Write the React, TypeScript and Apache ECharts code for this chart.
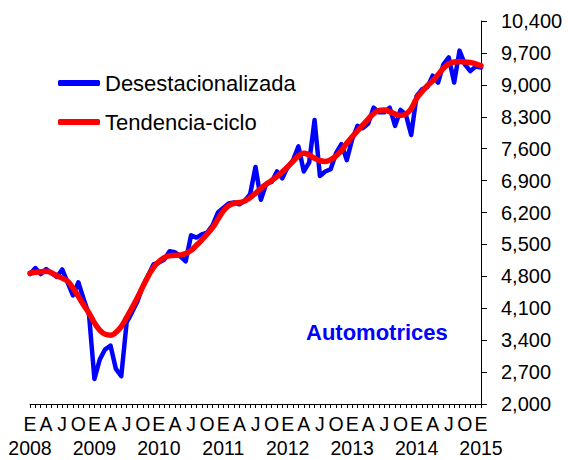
import React, { useEffect, useRef } from "react";
import * as echarts from "echarts";

const years = [2008, 2009, 2010, 2011, 2012, 2013, 2014, 2015];
const monthLetters: Record<number, string> = { 0: "E", 3: "A", 6: "J", 9: "O" };

// Monthly categories, Jan 2008 .. Jan 2015
const categories: string[] = [];
years.forEach((y) => {
  for (let m = 1; m <= 12; m++) {
    if (y === 2015 && m > 1) break;
    categories.push(`${y}-${String(m).padStart(2, "0")}`);
  }
});

const desestacionalizada = [
  // 2008
  4850, 4980, 4850, 4960, 4870, 4790, 4950, 4670, 4380, 4670, 4300, 3950,
  // 2009
  2550, 2980, 3200, 3280, 2770, 2610, 3790, 4010, 4250, 4580, 4820, 5060,
  // 2010
  5100, 5170, 5350, 5330, 5240, 5130, 5700, 5650, 5720, 5760, 5920, 6200,
  // 2011
  6300, 6400, 6420, 6380, 6460, 6600, 7200, 6480, 6830, 6870, 7100, 6950,
  // 2012
  7200, 7350, 7650, 7100, 7300, 8230, 7000, 7100, 7150, 7500, 7700, 7350,
  // 2013
  7800, 8100, 8050, 8150, 8500, 8400, 8400, 8500, 8100, 8450, 8350, 7900,
  // 2014
  8750, 8900, 8950, 9200, 9050, 9450, 9600, 9050, 9750, 9450, 9300, 9400,
  // 2015
  9380,
];

const tendenciaCiclo = [
  // 2008
  4870, 4890, 4900, 4910, 4880, 4810, 4760, 4690, 4540, 4360, 4170, 3990,
  // 2009
  3780, 3620, 3530, 3510, 3570, 3700, 3900, 4110, 4330, 4570, 4800, 4990,
  // 2010
  5120, 5210, 5250, 5260, 5270, 5300, 5370, 5480, 5600, 5730, 5870, 6050,
  // 2011
  6230, 6350, 6400, 6420, 6450, 6530, 6620, 6730, 6820, 6900, 6990, 7090,
  // 2012
  7200, 7320, 7440, 7500, 7460, 7390, 7340, 7320, 7360, 7440, 7560, 7720,
  // 2013
  7860, 7990, 8120, 8250, 8370, 8440, 8450, 8410, 8360, 8330, 8360, 8480,
  // 2014
  8700, 8850, 8980, 9090, 9220, 9360, 9460, 9500, 9510, 9500, 9490, 9460,
  // 2015
  9420,
];

const yTicks = [2000, 2700, 3400, 4100, 4800, 5500, 6200, 6900, 7600, 8300, 9000, 9700, 10400];

const FONT = "Arial, 'Liberation Sans', sans-serif";

export default function App() {
  const ref = useRef<HTMLDivElement>(null);

  useEffect(() => {
    if (!ref.current) return;
    const chart = echarts.init(ref.current, undefined, { renderer: "svg" });
    chart.setOption({
      animation: false,
      backgroundColor: "#ffffff",
      textStyle: { fontFamily: FONT },
      title: {
        text: "Automotrices",
        left: 306,
        top: 319,
        padding: 0,
        textStyle: {
          fontFamily: FONT,
          fontSize: 22,
          fontWeight: "bold",
          color: "#0000ff",
          lineHeight: 26,
        },
      },
      legend: {
        orient: "vertical",
        left: 58,
        top: 70,
        padding: 0,
        itemWidth: 42,
        itemHeight: 6,
        itemGap: 13,
        icon: "roundRect",
        textStyle: { fontFamily: FONT, fontSize: 22, color: "#000", lineHeight: 26 },
        data: ["Desestacionalizada", "Tendencia-ciclo"],
      },
      grid: { left: 30, right: 87, top: 21, bottom: 55 },
      xAxis: [
        {
          type: "category",
          data: categories,
          boundaryGap: false,
          axisLine: { show: true, lineStyle: { color: "#000", width: 1 } },
          axisTick: { show: true, interval: 0, length: 4, lineStyle: { color: "#000" } },
          axisLabel: {
            interval: (index: number) => index % 3 === 0,
            showMinLabel: true,
            showMaxLabel: true,
            formatter: (_v: string, index: number) => monthLetters[index % 12],
            fontFamily: FONT,
            fontSize: 19.5,
            lineHeight: 24,
            color: "#000",
            margin: 8,
          },
          splitLine: { show: false },
        },
        {
          type: "category",
          data: categories,
          boundaryGap: false,
          position: "bottom",
          axisLine: { show: false },
          axisTick: { show: false },
          axisLabel: {
            interval: (index: number) => index % 12 === 0,
            showMinLabel: true,
            showMaxLabel: true,
            formatter: (_v: string, index: number) => String(years[index / 12]),
            fontFamily: FONT,
            fontSize: 19.5,
            lineHeight: 24,
            color: "#000",
            margin: 32,
          },
          splitLine: { show: false },
        },
      ],
      yAxis: {
        type: "value",
        position: "right",
        min: 2000,
        max: 10400,
        axisLine: { show: true, lineStyle: { color: "#000", width: 1 } },
        axisTick: { show: true, length: 6, lineStyle: { color: "#000" }, customValues: yTicks },
        axisLabel: {
          customValues: yTicks,
          formatter: (v: number) => v.toLocaleString("en-US"),
          fontFamily: FONT,
          fontSize: 20,
          color: "#000",
          margin: 20,
        },
        splitLine: { show: false },
      },
      series: [
        {
          name: "Desestacionalizada",
          type: "line",
          xAxisIndex: 0,
          data: desestacionalizada,
          symbol: "none",
          color: "#0000ff",
          lineStyle: { color: "#0000ff", width: 4.5, join: "round", cap: "round" },
          z: 2,
        },
        {
          name: "Tendencia-ciclo",
          type: "line",
          xAxisIndex: 0,
          data: tendenciaCiclo,
          symbol: "none",
          smooth: true,
          color: "#ff0000",
          lineStyle: { color: "#ff0000", width: 5.5, join: "round", cap: "round" },
          z: 3,
        },
      ],
    });
    return () => chart.dispose();
  }, []);

  return (
    <div
      ref={ref}
      style={{ position: "fixed", left: 0, top: 0, width: 568, height: 460, background: "#fff" }}
    />
  );
}
